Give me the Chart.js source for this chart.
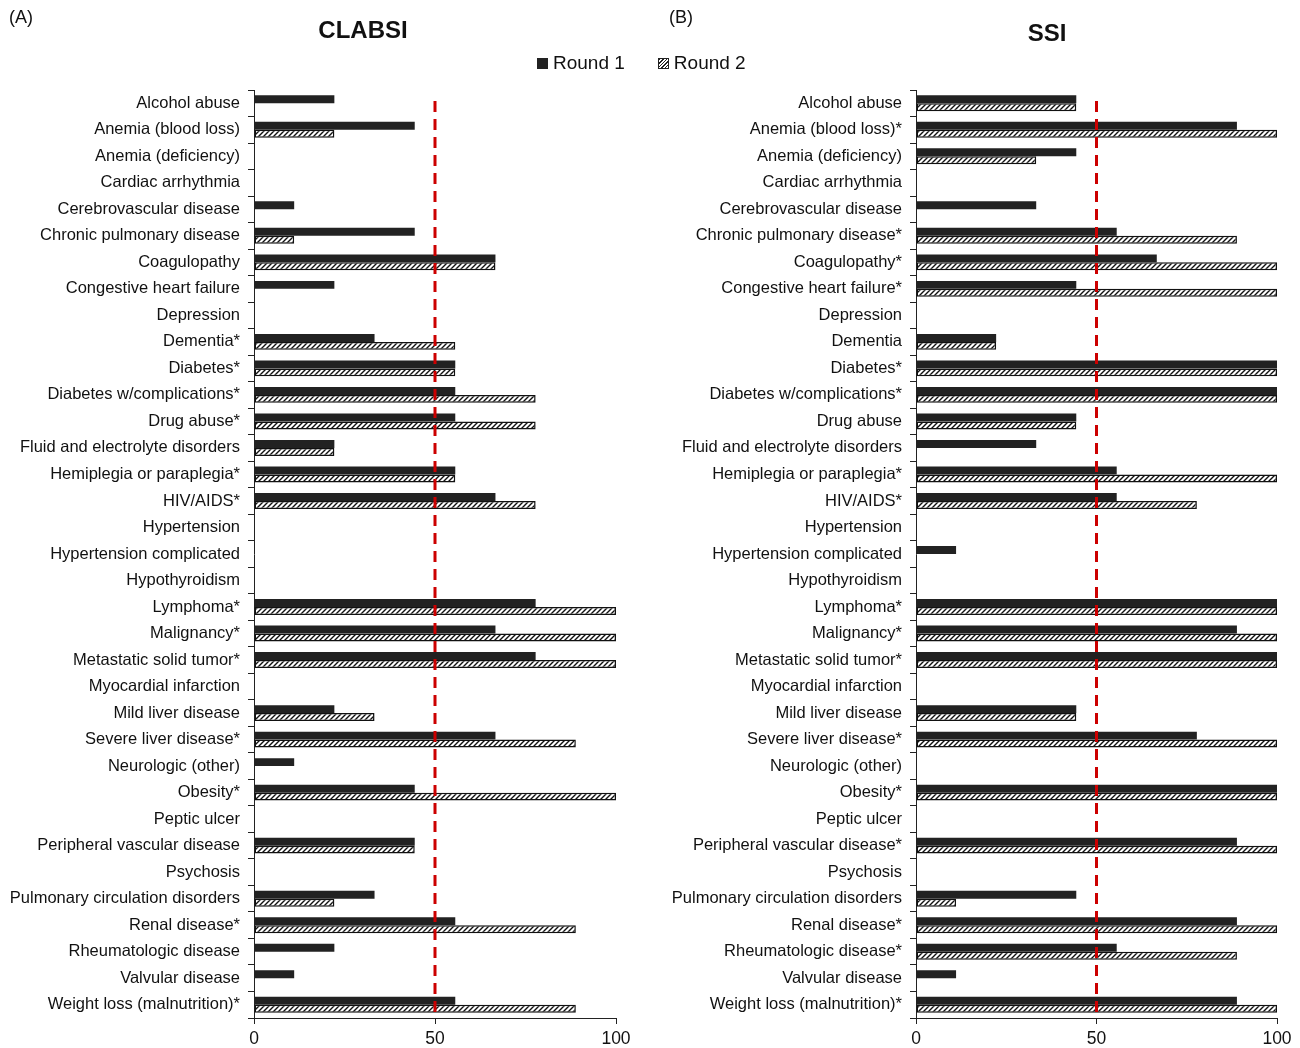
<!DOCTYPE html>
<html>
<head>
<meta charset="utf-8">
<script src="https://cdn.jsdelivr.net/npm/chart.js@4"></script>
<style>
  body { margin: 0; background: #fff; font-family: "Liberation Sans", Arial, sans-serif; color: #111; }
  #wrap { position: relative; width: 1300px; height: 1048px; }
  canvas { position: absolute; top: 0; }
  .lbl { position: absolute; font-size: 18px; }
  .ttl { position: absolute; font-size: 24px; font-weight: bold; transform: translateX(-50%); }
  #legend { position: absolute; left: 537px; top: 52px; font-size: 19px; display: flex; align-items: center; }
  .sw { display: inline-block; width: 11px; height: 11px; margin-right: 5px; }
  .sw1 { background: #222; }
  .sw2 { border: 1px solid #222; width: 9px; height: 9px;
         background: repeating-linear-gradient(-45deg, #fff 0 1.5px, #222 1.5px 2.5px); }
</style>
</head>
<body>
<div id="wrap">
  <canvas id="chartA" width="660" height="1048" style="left:0"></canvas>
  <canvas id="chartB" width="640" height="1048" style="left:660px"></canvas>
  <div class="lbl" style="left:9px; top:7px;">(A)</div>
  <div class="lbl" style="left:669px; top:7px;">(B)</div>
  <div class="ttl" style="left:363px; top:16px;">CLABSI</div>
  <div class="ttl" style="left:1047px; top:19px;">SSI</div>
  <div id="legend">
    <span class="sw sw1"></span><span>Round 1</span>
    <span style="width:33px"></span>
    <span class="sw sw2"></span><span>Round 2</span>
  </div>
</div>
<script>
var labelsA = ["Alcohol abuse", "Anemia (blood loss)", "Anemia (deficiency)", "Cardiac arrhythmia",
  "Cerebrovascular disease", "Chronic pulmonary disease", "Coagulopathy", "Congestive heart failure",
  "Depression", "Dementia*", "Diabetes*", "Diabetes w/complications*", "Drug abuse*",
  "Fluid and electrolyte disorders", "Hemiplegia or paraplegia*", "HIV/AIDS*", "Hypertension",
  "Hypertension complicated", "Hypothyroidism", "Lymphoma*", "Malignancy*", "Metastatic solid tumor*",
  "Myocardial infarction", "Mild liver disease", "Severe liver disease*", "Neurologic (other)",
  "Obesity*", "Peptic ulcer", "Peripheral vascular disease", "Psychosis",
  "Pulmonary circulation disorders", "Renal disease*", "Rheumatologic disease", "Valvular disease",
  "Weight loss (malnutrition)*"];
var labelsB = ["Alcohol abuse", "Anemia (blood loss)*", "Anemia (deficiency)", "Cardiac arrhythmia",
  "Cerebrovascular disease", "Chronic pulmonary disease*", "Coagulopathy*", "Congestive heart failure*",
  "Depression", "Dementia", "Diabetes*", "Diabetes w/complications*", "Drug abuse",
  "Fluid and electrolyte disorders", "Hemiplegia or paraplegia*", "HIV/AIDS*", "Hypertension",
  "Hypertension complicated", "Hypothyroidism", "Lymphoma*", "Malignancy*", "Metastatic solid tumor*",
  "Myocardial infarction", "Mild liver disease", "Severe liver disease*", "Neurologic (other)",
  "Obesity*", "Peptic ulcer", "Peripheral vascular disease*", "Psychosis",
  "Pulmonary circulation disorders", "Renal disease*", "Rheumatologic disease*", "Valvular disease",
  "Weight loss (malnutrition)*"];

var clabsiRound1 = [22.2, 44.4, 0, 0, 11.1, 44.4, 66.7, 22.2, 0, 33.3, 55.6, 55.6, 55.6, 22.2, 55.6, 66.7,
  0, 0, 0, 77.8, 66.7, 77.8, 0, 22.2, 66.7, 11.1, 44.4, 0, 44.4, 0, 33.3, 55.6, 22.2, 11.1, 55.6];
var clabsiRound2 = [0, 22.2, 0, 0, 0, 11.1, 66.7, 0, 0, 55.6, 55.6, 77.8, 77.8, 22.2, 55.6, 77.8,
  0, 0, 0, 100, 100, 100, 0, 33.3, 88.9, 0, 100, 0, 44.4, 0, 22.2, 88.9, 0, 0, 88.9];
var ssiRound1 = [44.4, 88.9, 44.4, 0, 33.3, 55.6, 66.7, 44.4, 0, 22.2, 100, 100, 44.4, 33.3, 55.6, 55.6,
  0, 11.1, 0, 100, 88.9, 100, 0, 44.4, 77.8, 0, 100, 0, 88.9, 0, 44.4, 88.9, 55.6, 11.1, 88.9];
var ssiRound2 = [44.4, 100, 33.3, 0, 0, 88.9, 100, 100, 0, 22.2, 100, 100, 44.4, 0, 100, 77.8,
  0, 0, 0, 100, 100, 100, 0, 44.4, 100, 0, 100, 0, 100, 0, 11.1, 100, 88.9, 0, 100];
var xTicks = [0, 50, 100];
var threshold = 50;

function hatch() {
  var s = 5;
  var c = document.createElement("canvas");
  c.width = s; c.height = s;
  var g = c.getContext("2d");
  g.fillStyle = "#fff";
  g.fillRect(0, 0, s, s);
  g.strokeStyle = "#111";
  g.lineWidth = 1.4;
  g.beginPath();
  g.moveTo(0, s); g.lineTo(s, 0);
  g.moveTo(-1, 1); g.lineTo(1, -1);
  g.moveTo(s - 1, s + 1); g.lineTo(s + 1, s - 1);
  g.stroke();
  return g.createPattern(c, "repeat");
}

var refLine = {
  id: "refLine",
  afterDatasetsDraw: function (chart) {
    var ctx = chart.ctx, a = chart.chartArea;
    var x = chart.scales.x.getPixelForValue(threshold);
    ctx.save();
    ctx.strokeStyle = "#cc0000";
    ctx.lineWidth = 3;
    ctx.setLineDash([11, 7]);
    ctx.beginPath();
    ctx.moveTo(x, a.top + 11);
    ctx.lineTo(x, a.bottom);
    ctx.stroke();
    ctx.restore();
  }
};

function makeChart(id, labels, r1, r2, yWidth, padRight) {
  var font = { family: "'Liberation Sans', Arial, sans-serif", size: 16.5 };
  return new Chart(document.getElementById(id), {
    type: "bar",
    data: {
      labels: labels,
      datasets: [
        { label: "Round 1", data: r1, backgroundColor: "#222", borderWidth: 0,
          categoryPercentage: 0.6, barPercentage: 1 },
        { label: "Round 2", data: r2, backgroundColor: hatch(), borderColor: "#111",
          borderWidth: function (c) { return c.raw > 0 ? 1.5 : 0; }, borderSkipped: false,
          categoryPercentage: 0.6, barPercentage: 1 }
      ]
    },
    options: {
      indexAxis: "y",
      responsive: false,
      animation: false,
      layout: { padding: { top: 90, right: padRight, bottom: 0, left: 0 } },
      plugins: { legend: { display: false }, tooltip: { enabled: false } },
      scales: {
        x: {
          min: 0, max: 100,
          afterBuildTicks: function (s) { s.ticks = xTicks.map(function (v) { return { value: v }; }); },
          afterFit: function (s) { s.height = 30; },
          grid: { drawOnChartArea: false, color: "#222", tickLength: 6 },
          border: { color: "#222", width: 1 },
          ticks: { color: "#111", font: { family: font.family, size: 17.5 }, padding: 5, maxRotation: 0 }
        },
        y: {
          afterFit: function (s) { s.width = yWidth; },
          grid: { drawOnChartArea: false, color: "#222", tickLength: 6, offset: true },
          border: { color: "#222", width: 1 },
          ticks: { color: "#111", font: font, padding: 8, autoSkip: false }
        }
      }
    },
    plugins: [refLine]
  });
}

makeChart("chartA", labelsA, clabsiRound1, clabsiRound2, 254, 44);
makeChart("chartB", labelsB, ssiRound1, ssiRound2, 256, 23);
</script>
</body>
</html>
